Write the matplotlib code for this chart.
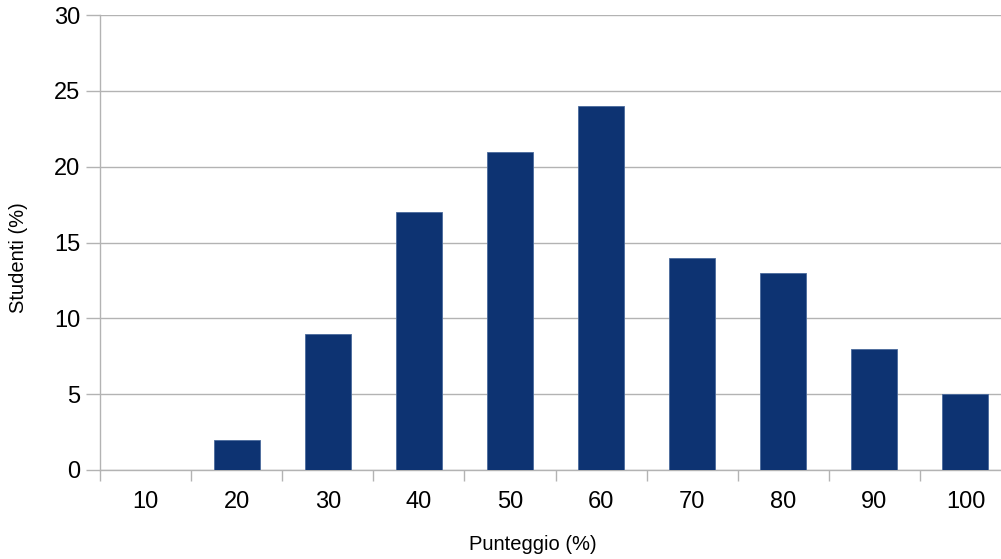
import matplotlib.pyplot as plt
import numpy as np
from matplotlib.ticker import FixedLocator

# data
categories = ["10", "20", "30", "40", "50", "60", "70", "80", "90", "100"]
students_pct = [0, 2, 9, 17, 21, 24, 14, 13, 8, 5]

plt.rcParams["font.family"] = ["Liberation Sans", "DejaVu Sans"]

W, H = 1001, 559
fig = plt.figure(figsize=(W / 100, H / 100), dpi=100)
# plot area runs a bit past the right edge, like the original export
left, right, top, bottom = 100, 1011, 15, 470
ax = fig.add_axes([left / W, (H - bottom) / H, (right - left) / W, (bottom - top) / H])

x = np.arange(len(categories))
ax.bar(x, students_pct, width=0.505, color="#0d3372", edgecolor="#4a6a9c",
       linewidth=0.6, zorder=3)

ax.set_xlim(-0.5, len(categories) - 0.5)
ax.set_ylim(0, 30)
ax.set_yticks(range(0, 31, 5))
ax.set_xticks(x)
ax.set_xticklabels(categories)
ax.xaxis.set_minor_locator(FixedLocator(np.arange(-0.5, len(categories) - 0.5, 1)))

ax.tick_params(axis="x", which="major", length=0, pad=15, labelsize=17)
ax.tick_params(axis="x", which="minor", length=8, width=1, color="#b3b3b3")
ax.tick_params(axis="y", length=10, width=1, color="#b3b3b3", pad=4, labelsize=17)

ax.grid(axis="y", color="#b3b3b3", linewidth=1, zorder=0)
for side in ["top", "right"]:
    ax.spines[side].set_visible(False)
for side in ["left", "bottom"]:
    ax.spines[side].set_color("#b3b3b3")
    ax.spines[side].set_linewidth(1)

ax.set_xlabel("Punteggio (%)", fontsize=14.5, va="center")
ax.set_ylabel("Studenti (%)", fontsize=14.5, va="center")
aw, ah = right - left, bottom - top
ax.xaxis.set_label_coords((533 - left) / aw, (bottom - 545) / ah)
ax.yaxis.set_label_coords((19 - left) / aw, (bottom - 258) / ah)

fig.savefig("out.png", dpi=100)
